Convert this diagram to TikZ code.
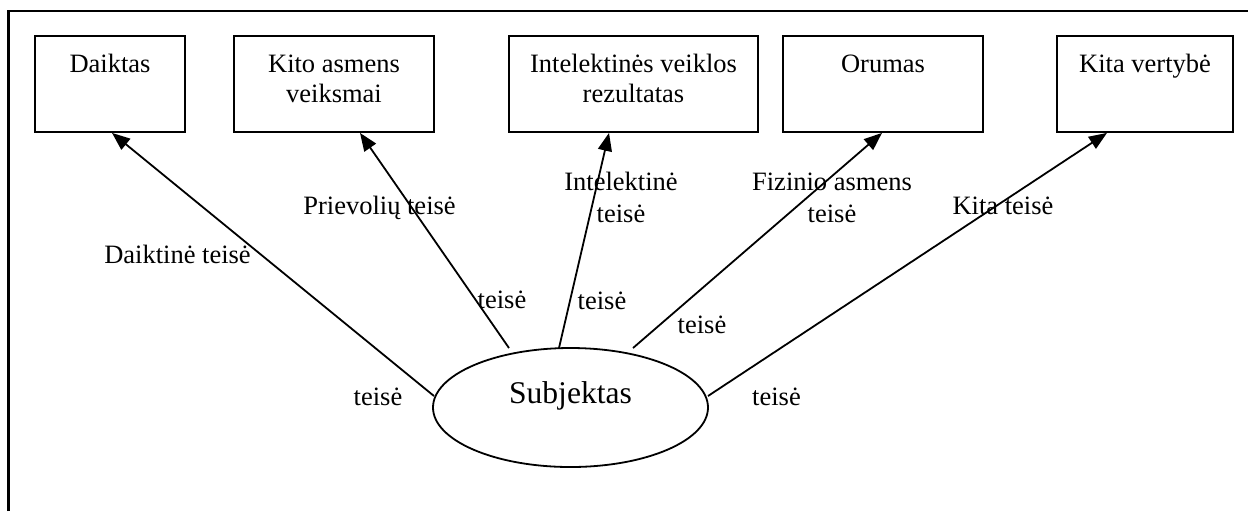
\documentclass[tikz,border=0pt]{standalone}
\usepackage{fontspec}
\setmainfont{Liberation Serif}
\usetikzlibrary{arrows.meta,shapes.geometric}
\tikzset{
  boxnode/.style={draw,line width=0.9pt,minimum width=#1,minimum height=48pt,inner sep=0pt},
  txt/.style={font=\fontsize{13.25}{15}\selectfont,inner sep=0pt,anchor=base},
  bigtxt/.style={font=\fontsize{15.8}{18}\selectfont,inner sep=0pt,anchor=base},
  arr/.style={line width=0.9pt,-{Triangle[length=9pt,width=7pt]}},
  frame/.style={line width=1.2pt}
}
\begin{document}
\begin{tikzpicture}[x=0.5pt,y=-0.5pt]
\useasboundingbox (0,0) rectangle (1248,511);
\fill[white] (0,0) rectangle (1248,511);
% outer frame (only top and left edges visible)
\draw[frame] (8.5,511) -- (8.5,11) -- (1248,11);
% boxes
\node[boxnode=75pt] (b1) at (110,84) {};
\node[boxnode=100pt] (b2) at (334,84) {};
\node[boxnode=124.5pt] (b3) at (633.5,84) {};
\node[boxnode=100pt] (b4) at (883,84) {};
\node[boxnode=88pt] (b5) at (1145,84) {};
% box texts
\node[txt] (t1) at (110,72) {Daiktas};
\node[txt] (t2a) at (334,72) {Kito asmens};
\node[txt] (t2b) at (334,102) {veiksmai};
\node[txt] (t3a) at (633.5,72) {Intelektinės veiklos};
\node[txt] (t3b) at (633.5,102) {rezultatas};
\node[txt] (t4) at (883,72) {Orumas};
\node[txt] (t5) at (1145,72) {Kita vertybė};
% ellipse
\node[draw,ellipse,line width=0.9pt,minimum width=137.5pt,minimum height=59.5pt,inner sep=0pt] (subj) at (570.5,407.5) {};
\node[bigtxt] (subjt) at (570.5,403) {Subjektas};
% connectors
\draw[arr] ([xshift=-68.25pt,yshift=5.75pt]subj.center) -- ([xshift=1pt]b1.south);
\draw[arr] ([xshift=-30.75pt,yshift=29.75pt]subj.center) -- ([xshift=13pt]b2.south);
\draw[arr] ([xshift=-5.75pt,yshift=29.75pt]subj.center) -- ([xshift=-12.25pt]b3.south);
\draw[arr] ([xshift=31.25pt,yshift=29.75pt]subj.center) -- ([xshift=-0.5pt]b4.south);
\draw[arr] ([xshift=68.75pt,yshift=5.75pt]subj.center) -- ([xshift=-19pt]b5.south);
% labels
\node[txt] (l1) at (177.5,263) {Daiktinė teisė};
\node[txt] (l1b) at (378,405) {teisė};
\node[txt] (l2) at (379.5,214) {Prievolių teisė};
\node[txt] (l2b) at (502,308) {teisė};
\node[txt] (l3a) at (621,190) {Intelektinė};
\node[txt] (l3b) at (621,222) {teisė};
\node[txt] (l3c) at (602,309) {teisė};
\node[txt] (l4a) at (832,190) {Fizinio asmens};
\node[txt] (l4b) at (832,222) {teisė};
\node[txt] (l4c) at (702,333) {teisė};
\node[txt] (l5) at (1003,214) {Kita teisė};
\node[txt] (l5b) at (776.5,405) {teisė};
\end{tikzpicture}
\end{document}
